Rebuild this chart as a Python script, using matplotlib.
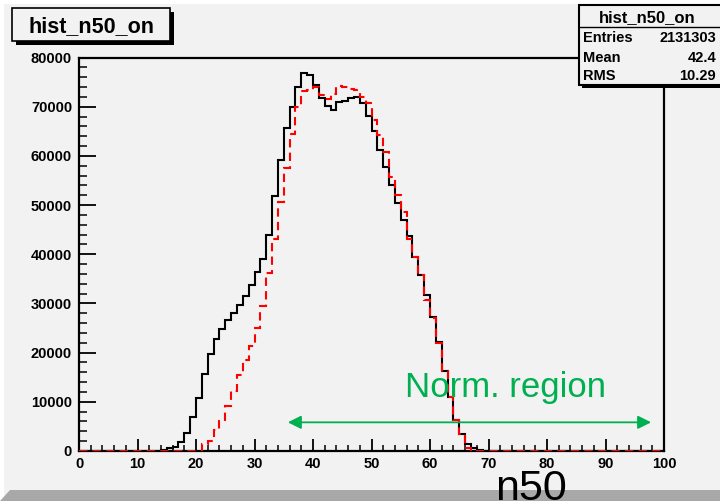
import matplotlib
matplotlib.use("Agg")
import matplotlib.pyplot as plt
from matplotlib.patches import Rectangle, Polygon
from matplotlib.ticker import MultipleLocator
import numpy as np

# ---------------- data ----------------
bin_edges = list(range(0, 101))
black_counts = [0]*14 + [
    150, 550, 900, 1800, 3750, 6970, 10700, 15600, 19700, 22700,   # 14-23
    24900, 26600, 28000, 29700, 31600, 33800, 36400, 39100, 44000, 51800,  # 24-33
    59100, 65650, 69900, 74000, 76800, 76550, 74500, 71700, 70100, 69400,  # 34-43
    70900, 71100, 71700, 71900, 70700, 68200, 65000, 61300, 57700, 54000,  # 44-53
    50500, 47000, 43650, 39500, 35700, 31800, 27300, 22070, 16300, 11000,  # 54-63
    6400, 3500, 1500, 700, 150,                                            # 64-68
] + [0]*31
red_counts = [0]*21 + [
    1400, 2000, 4200, 6200, 9150, 12200, 15400, 18500, 21400,              # 21-29
    25000, 29400, 36100, 43100, 50600, 57500, 64500, 70000, 73150, 73400,  # 30-39
    74100, 72300, 71600, 72600, 74250, 74000, 73700, 73400, 71900, 70800,  # 40-49
    67300, 64300, 60900, 55700, 52000, 48600, 43100, 39500, 35700, 30800,  # 50-59
    27000, 22000, 16300, 11000, 6400, 3400, 700, 300,                      # 60-67
] + [0]*32
x_ticks = [0, 10, 20, 30, 40, 50, 60, 70, 80, 90, 100]
y_ticks = [0, 10000, 20000, 30000, 40000, 50000, 60000, 70000, 80000]
title_text = "hist_n50_on"
stats_rows = [("Entries", "2131303"), ("Mean", "42.4"), ("RMS", "10.29")]
xlabel_text = "n50"
note_text = "Norm. region"
arrow_range = (35.7, 97.8)
arrow_y = 5830

W, H = 720, 501
BG = "#f2f2f2"
GREEN = "#00b050"

fig = plt.figure(figsize=(W/100, H/100), dpi=100, facecolor=BG)

def fx(px):
    return px / W
def fy(py):
    return 1 - py / H

ax_l, ax_r, ax_t, ax_b = 79, 664, 57.6, 451
ax = fig.add_axes([fx(ax_l), fy(ax_b), (ax_r-ax_l)/W, (ax_b-ax_t)/H])
ax.set_facecolor(BG)
ax.set_xlim(0, 100)
ax.set_ylim(0, 80000)

ax.stairs(black_counts, bin_edges, color="black", lw=1.5, zorder=3)
ax.stairs(red_counts, bin_edges, color="#ff0000", lw=1.5,
          linestyle=(0, (4, 2.5)), zorder=4)

for s in ax.spines.values():
    s.set_linewidth(1.6)
    s.set_zorder(2)

ax.set_xticks(x_ticks)
ax.set_yticks(y_ticks)
ax.xaxis.set_minor_locator(MultipleLocator(2))
ax.yaxis.set_minor_locator(MultipleLocator(2000))
ax.tick_params(axis="x", which="major", direction="in", length=9, width=1.3, pad=4)
ax.tick_params(axis="x", which="minor", direction="in", length=4.5, width=1.1)
ax.tick_params(axis="y", which="major", direction="in", length=12, width=1.3, pad=5)
ax.tick_params(axis="y", which="minor", direction="in", length=6, width=1.1)
ax.set_xticklabels([str(t) for t in x_ticks], fontfamily="Liberation Sans",
                   fontweight="bold", fontsize=10.5)
ax.set_yticklabels([str(t) for t in y_ticks], fontfamily="Liberation Sans",
                   fontweight="bold", fontsize=10.5)

# annotation: Norm. region
ax.annotate("", xy=(arrow_range[0], arrow_y), xytext=(arrow_range[1], arrow_y),
            arrowprops=dict(arrowstyle="<|-|>", color=GREEN, lw=1.3,
                            mutation_scale=20, shrinkA=0, shrinkB=0), zorder=5)
ax.text(55.8, 10960, note_text, color=GREEN, fontsize=25,
        fontfamily="Liberation Sans", va="baseline", ha="left", zorder=5)

# x label
fig.text(fx(495), fy(500), xlabel_text, fontsize=31, fontfamily="Liberation Sans",
         va="baseline", ha="left", zorder=10)

# bottom bevel bar
fig.patches.append(Polygon([[fx(0), fy(501)], [fx(10), fy(490)], [fx(720), fy(490)],
                            [fx(720), fy(501)]], closed=True, transform=fig.transFigure,
                           facecolor="#a8a8a8", edgecolor="none", zorder=1))
fig.patches.append(Rectangle((0, fy(4)), 1, fy(0)-fy(4), transform=fig.transFigure,
                             facecolor="white", edgecolor="none", zorder=0))
fig.patches.append(Rectangle((0, 0), fx(4), 1, transform=fig.transFigure,
                             facecolor="white", edgecolor="none", zorder=0))

# title box
tx0, ty0, tx1, ty1 = 12, 8, 170, 41
fig.patches.append(Rectangle((fx(tx0+4), fy(ty1+4)), (tx1-tx0)/W, (ty1-ty0)/H,
                             transform=fig.transFigure, facecolor="black",
                             edgecolor="none", zorder=6))
fig.patches.append(Rectangle((fx(tx0), fy(ty1)), (tx1-tx0)/W, (ty1-ty0)/H,
                             transform=fig.transFigure, facecolor=BG,
                             edgecolor="black", lw=1.2, zorder=7))
fig.text(fx((tx0+tx1)/2), fy((ty0+ty1)/2), title_text, fontsize=15.5,
         fontfamily="Liberation Sans", fontweight="bold", ha="center",
         va="center_baseline", zorder=8)

# stats box
sx0, sy0, sx1, sy1 = 579, 5, 722, 85
fig.patches.append(Rectangle((fx(sx0+3), fy(sy1+3)), (sx1-sx0)/W, (sy1-sy0)/H,
                             transform=fig.transFigure, facecolor="black",
                             edgecolor="none", zorder=6))
fig.patches.append(Rectangle((fx(sx0), fy(sy1)), (sx1-sx0)/W, (sy1-sy0)/H,
                             transform=fig.transFigure, facecolor=BG,
                             edgecolor="black", lw=1.5, zorder=7))
fig.lines.append(plt.Line2D([fx(sx0), fx(sx1)], [fy(27), fy(27)],
                            transform=fig.transFigure, color="black", lw=1.0, zorder=8))
fig.text(fx(647), fy(16), title_text, fontsize=12, fontfamily="Liberation Sans",
         fontweight="bold", ha="center", va="center_baseline", zorder=8)
row_y = [37, 56, 75]
for (lab, val), yy in zip(stats_rows, row_y):
    fig.text(fx(583), fy(yy), lab, fontsize=10.5, fontfamily="Liberation Sans",
             fontweight="bold", ha="left", va="center_baseline", zorder=8)
    fig.text(fx(716), fy(yy), val, fontsize=10.5, fontfamily="Liberation Sans",
             fontweight="bold", ha="right", va="center_baseline", zorder=8)

fig.savefig("out.png", dpi=100, facecolor=BG)
